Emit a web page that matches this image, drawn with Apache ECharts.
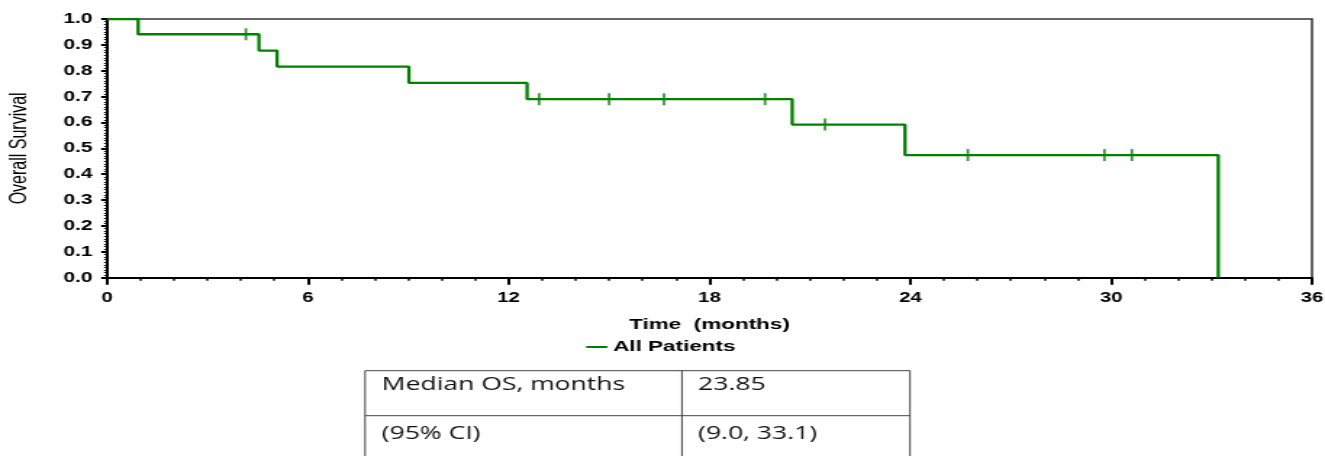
<!DOCTYPE html>
<html>
<head>
<meta charset="utf-8">
<script src="https://cdn.jsdelivr.net/npm/echarts@6.0.0/dist/echarts.min.js"></script>
<style>
html,body{margin:0;padding:0;background:#fff;overflow:hidden;width:1325px;height:456px;}
#wrap{width:914px;height:456px;transform:scaleX(1.4497);transform-origin:0 0;}
</style>
</head>
<body>
<div id="wrap"></div>
<script>
// Kaplan-Meier step points (months, survival probability)
const eventTimes = [0, 0.93, 4.54, 5.08, 9.02, 12.55, 20.47, 23.84, 33.2];
const survival   = [1.0, 0.941, 0.878, 0.816, 0.753, 0.690, 0.592, 0.474, 0.0];
// Censored observations
const censorTimes = [4.15, 12.91, 15.0, 16.64, 19.66, 21.45, 25.72, 29.8, 30.62];
const censorSurv  = [0.941, 0.690, 0.690, 0.690, 0.690, 0.592, 0.474, 0.474, 0.474];
// Axis ticks
const xTicks = [0, 6, 12, 18, 24, 30, 36];
const yTicks = [0.0, 0.1, 0.2, 0.3, 0.4, 0.5, 0.6, 0.7, 0.8, 0.9, 1.0];
// Summary table
const tableRows = [["Median OS, months", "23.85"], ["(95% CI)", "(9.0, 33.1)"]];

const GREEN = '#008000';
const chart = echarts.init(document.getElementById('wrap'), null, {renderer: 'canvas', width: 914, height: 456});

const kmData = eventTimes.map((t, i) => [t, survival[i]]);
const censorData = censorTimes.map((t, i) => [t, censorSurv[i]]);

// table geometry (unscaled frame)
const tL = 251.8, tD = 470.4, tR = 627.7, tTop = 370.7, tMid = 415.7, tBot = 461;
const tableGraphics = [
  {type: 'line', shape: {x1: tL, y1: tTop, x2: tR, y2: tTop}, style: {stroke: '#444', lineWidth: 1}},
  {type: 'line', shape: {x1: tL, y1: tMid, x2: tR, y2: tMid}, style: {stroke: '#444', lineWidth: 1}},
  {type: 'line', shape: {x1: tL, y1: tTop, x2: tL, y2: tBot}, style: {stroke: '#444', lineWidth: 1}},
  {type: 'line', shape: {x1: tD, y1: tTop, x2: tD, y2: tBot}, style: {stroke: '#444', lineWidth: 1}},
  {type: 'line', shape: {x1: tR, y1: tTop, x2: tR, y2: tBot}, style: {stroke: '#444', lineWidth: 1}}
];
const rowY = [385, 434];
tableRows.forEach((row, i) => {
  tableGraphics.push({type: 'text', x: 263.3, y: rowY[i], style: {text: row[0], font: '18.3px "Open Sans"', fill: '#111', verticalAlign: 'middle', align: 'left'}});
  tableGraphics.push({type: 'text', x: 481.5, y: rowY[i], style: {text: row[1], font: '18.3px "Open Sans"', fill: '#111', verticalAlign: 'middle', align: 'left'}});
});

chart.setOption({
  animation: false,
  backgroundColor: '#fff',
  grid: {left: 73.8, right: 9, top: 19, bottom: 178.3, show: true, borderColor: '#333', borderWidth: 1.5,
    containLabel: false, outerBoundsMode: 'none'},
  legend: {
    data: ['All Patients'], left: 399.4, top: 334, icon: 'rect', itemWidth: 14.5, itemHeight: 2, itemGap: 3,
    textStyle: {fontFamily: 'Liberation Sans', fontWeight: 'bold', fontSize: 15.5, color: '#000', padding: [0, 0, 0, -1]}
  },
  xAxis: {
    type: 'value', min: xTicks[0], max: xTicks[xTicks.length - 1], interval: 6,
    name: 'Time  (months)', nameLocation: 'middle', nameGap: 39,
    nameTextStyle: {fontFamily: 'Liberation Sans', fontWeight: 'bold', fontSize: 15.5, color: '#000'},
    axisLine: {show: true, lineStyle: {color: '#000', width: 2}},
    axisTick: {show: true, length: 7, lineStyle: {color: '#000', width: 2}},
    minorTick: {show: true, splitNumber: 6, length: 3, lineStyle: {color: '#000', width: 1.5}},
    axisLabel: {margin: 13, fontFamily: 'Liberation Sans', fontWeight: 'bold', fontSize: 14, color: '#000'},
    splitLine: {show: false}
  },
  yAxis: {
    type: 'value', min: 0, max: 1, interval: 0.1,
    name: 'Overall Survival', nameLocation: 'middle', nameGap: 52, nameRotate: 90,
    nameTextStyle: {fontFamily: 'Liberation Sans', fontSize: 16, color: '#000'},
    axisLine: {show: true, lineStyle: {color: '#000', width: 2}},
    axisTick: {show: true, length: 4, lineStyle: {color: '#000', width: 2}},
    minorTick: {show: true, splitNumber: 10, length: 2, lineStyle: {color: '#000', width: 1}},
    axisLabel: {margin: 10, fontFamily: 'Liberation Sans', fontWeight: 'bold', fontSize: 14.5, color: '#000',
      formatter: v => v.toFixed(1)},
    splitLine: {show: false}
  },
  series: [
    {
      name: 'All Patients', type: 'line', step: 'end', data: kmData, showSymbol: false,
      lineStyle: {color: GREEN, width: 2.3}, itemStyle: {color: GREEN}, z: 3
    },
    {
      name: 'censor', type: 'scatter', data: censorData, symbol: 'rect', symbolSize: [1.8, 12],
      itemStyle: {color: GREEN}, z: 4
    }
  ],
  graphic: tableGraphics
});
</script>
</body>
</html>
